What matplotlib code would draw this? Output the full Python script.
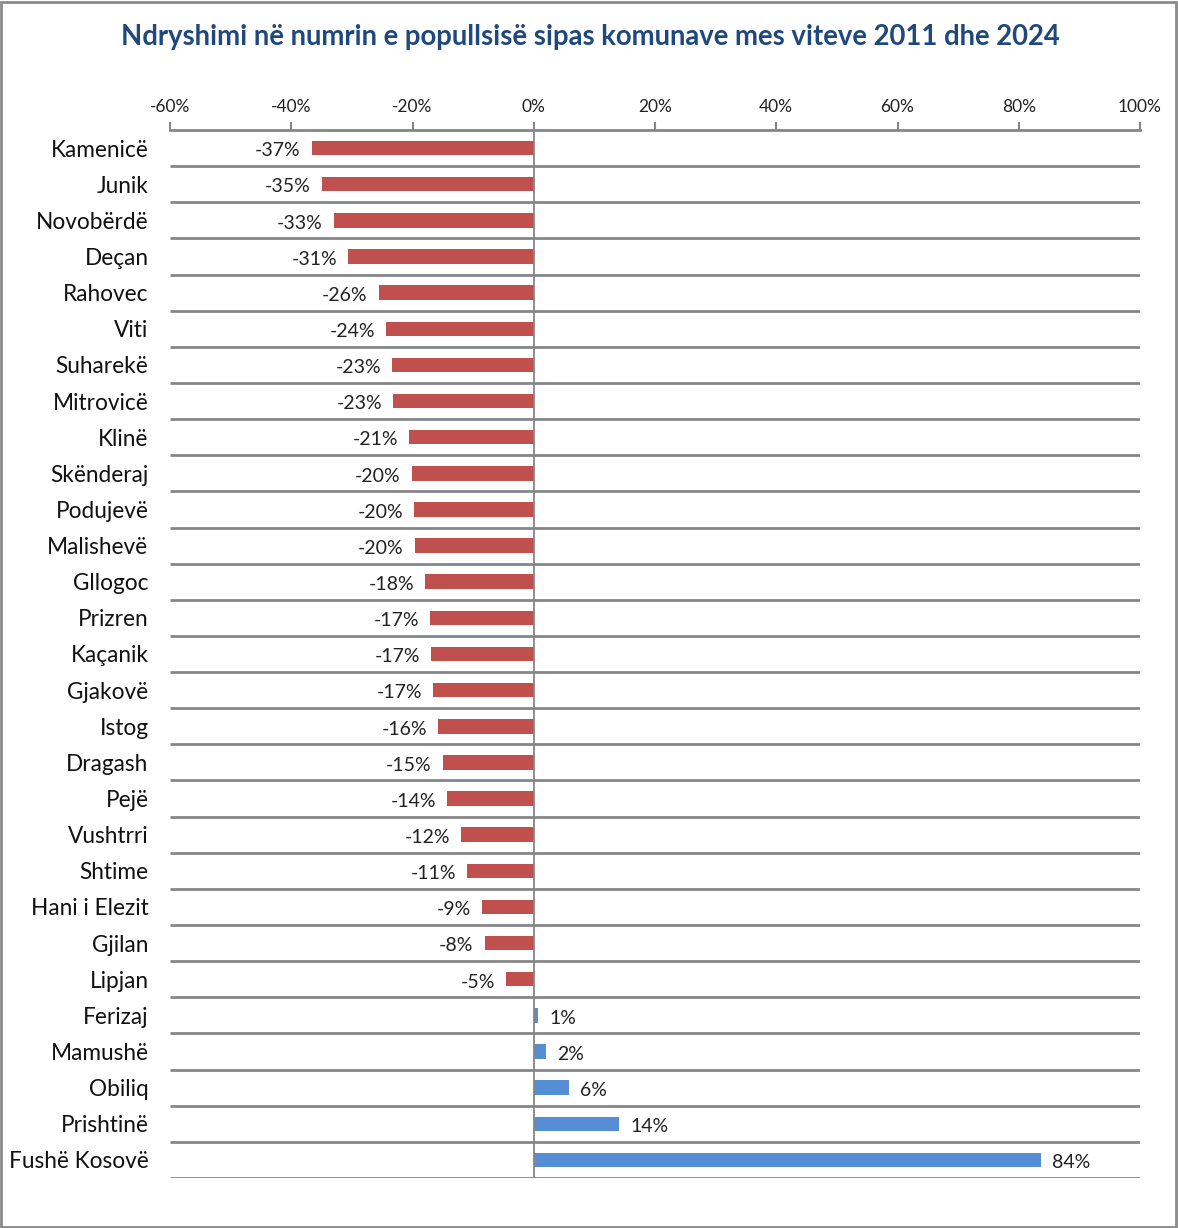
import matplotlib
matplotlib.use("Agg")
import matplotlib.pyplot as plt
from matplotlib.patches import Rectangle
from matplotlib.ticker import FuncFormatter
import numpy as np

municipalities = ["Kamenicë", "Junik", "Novobërdë", "Deçan", "Rahovec", "Viti", "Suharekë",
                  "Mitrovicë", "Klinë", "Skënderaj", "Podujevë", "Malishevë", "Gllogoc",
                  "Prizren", "Kaçanik", "Gjakovë", "Istog", "Dragash", "Pejë", "Vushtrri",
                  "Shtime", "Hani i Elezit", "Gjilan", "Lipjan", "Ferizaj", "Mamushë",
                  "Obiliq", "Prishtinë", "Fushë Kosovë"]
change_pct = [-36.6, -35.0, -33.0, -30.6, -25.6, -24.3, -23.3, -23.2, -20.6, -20.1,
              -19.7, -19.6, -17.9, -17.1, -16.9, -16.6, -15.8, -15.0, -14.3, -12.0,
              -11.0, -8.6, -8.1, -4.6, 0.7, 2.0, 5.8, 14.1, 83.7]
tick_values = [-60, -40, -20, 0, 20, 40, 60, 80, 100]

TITLE = "Ndryshimi në numrin e popullsisë sipas komunave mes viteve 2011 dhe 2024"
RED = "#C0504D"
BLUE = "#558ED5"
GRID = "#868686"
FONT = ["Lato", "DejaVu Sans"]

plt.rcParams["font.family"] = FONT

W, H = 1178, 1228
fig = plt.figure(figsize=(W / 100, H / 100), dpi=100)
ax = fig.add_axes([170 / W, 1 - 1178 / H, (1140 - 170) / W, (1178 - 130) / H])

n = len(municipalities)
y = np.arange(n)
colors = [RED if v < 0 else BLUE for v in change_pct]
ax.barh(y, change_pct, height=0.4, color=colors, zorder=3)

ax.set_xlim(tick_values[0], tick_values[-1])
ax.set_ylim(n - 0.5, -0.5)

# horizontal separators between categories
ax.hlines(np.arange(n) + 0.5, tick_values[0], tick_values[-1], color=GRID, lw=2, zorder=2)
ax.axvline(0, color=GRID, lw=1.3, zorder=4)

for s in ["left", "right", "bottom"]:
    ax.spines[s].set_visible(False)
ax.spines["top"].set_color(GRID)
ax.spines["top"].set_linewidth(2)

ax.xaxis.tick_top()
ax.set_xticks(tick_values)
ax.xaxis.set_major_formatter(FuncFormatter(lambda v, p: f"{int(v)}%"))
ax.tick_params(axis="x", direction="out", length=6, width=1.5, color=GRID,
               labelsize=12.5, pad=5, labelcolor="#222222")

ax.set_yticks(y)
ax.set_yticklabels(municipalities)
ax.tick_params(axis="y", length=0, labelsize=16.3, pad=15.5, labelcolor="#111111")

for yi, v in zip(y, change_pct):
    lab = f"{round(v):d}%"
    if v < 0:
        ax.annotate(lab, (v, yi), xytext=(-8, -2), textcoords="offset points",
                    ha="right", va="center", fontsize=14, color="#222222")
    else:
        ax.annotate(lab, (v, yi), xytext=(8, -2), textcoords="offset points",
                    ha="left", va="center", fontsize=14, color="#222222")

fig.text(590 / W, 1 - 37 / H, TITLE, ha="center", va="center", fontsize=19.8,
         fontweight="bold", color="#1F497D")

fig.patches.append(Rectangle((1 / W, 1 / H), 1 - 3 / W, 1 - 3 / H, transform=fig.transFigure,
                             fill=False, edgecolor="#8A8A8A", lw=2))

fig.savefig("out.png", dpi=100, facecolor="white")
